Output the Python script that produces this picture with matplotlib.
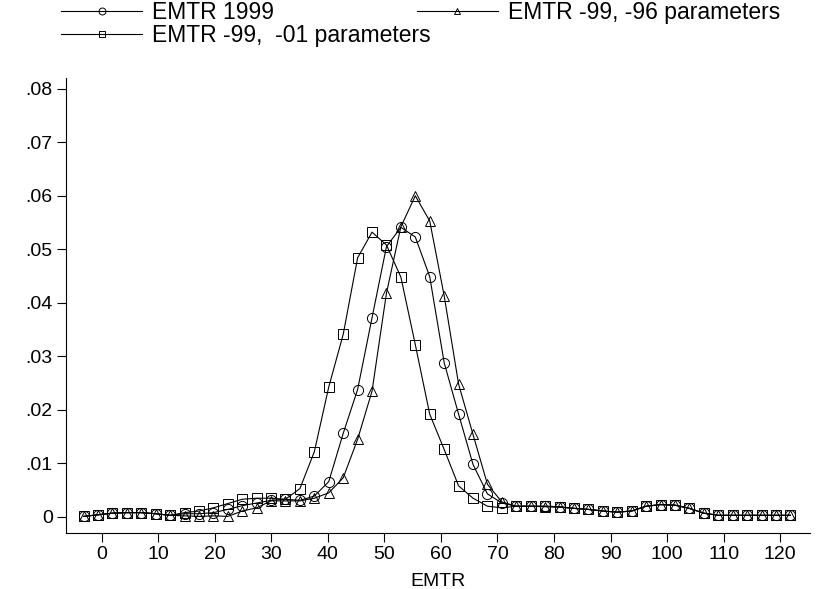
import matplotlib
matplotlib.use("Agg")
from matplotlib import pyplot as plt
from matplotlib.lines import Line2D

plt.rcParams['font.family'] = ['Liberation Sans', 'DejaVu Sans']

# grid of EMTR values where the densities were evaluated
emtr = [-3.2, -0.65, 1.9, 4.45, 7.0, 9.56, 12.11, 14.66, 17.21, 19.76,
        22.31, 24.86, 27.41, 29.96, 32.51, 35.07, 37.62, 40.17, 42.72, 45.27,
        47.82, 50.37, 52.92, 55.47, 58.02, 60.58, 63.13, 65.68, 68.23, 70.78,
        73.33, 75.88, 78.43, 80.98, 83.53, 86.09, 88.64, 91.19, 93.74, 96.29,
        98.84, 101.39, 103.94, 106.49, 109.04, 111.6, 114.15, 116.7, 119.25, 121.8]

dens_1999 = [0.0001, 0.0004, 0.0007, 0.0008, 0.0008, 0.0006, 0.0003, 0.0006, 0.0006, 0.0008,
             0.0014, 0.0021, 0.0026, 0.0031, 0.0033, 0.0031, 0.0039, 0.0066, 0.0156, 0.0238,
             0.0372, 0.0505, 0.0541, 0.0523, 0.0449, 0.0288, 0.0192, 0.0098, 0.0043, 0.0026,
             0.0020, 0.0020, 0.0020, 0.0019, 0.0016, 0.0014, 0.0011, 0.0009, 0.0011, 0.0020,
             0.0023, 0.0022, 0.0016, 0.0007, 0.0003, 0.0003, 0.0003, 0.0003, 0.0003, 0.0003]

dens_96 = [0.0001, 0.0004, 0.0007, 0.0008, 0.0008, 0.0006, 0.0003, 0.0002, 0.0001, 0.0002,
           0.0001, 0.0011, 0.0017, 0.0030, 0.0030, 0.0030, 0.0035, 0.0045, 0.0073, 0.0145,
           0.0235, 0.0418, 0.0542, 0.0600, 0.0553, 0.0413, 0.0248, 0.0154, 0.0061, 0.0028,
           0.0020, 0.0020, 0.0019, 0.0018, 0.0016, 0.0014, 0.0011, 0.0009, 0.0011, 0.0020,
           0.0023, 0.0022, 0.0016, 0.0007, 0.0003, 0.0003, 0.0003, 0.0003, 0.0003, 0.0003]

dens_01 = [0.0001, 0.0004, 0.0007, 0.0008, 0.0008, 0.0006, 0.0003, 0.0008, 0.0011, 0.0017,
           0.0025, 0.0033, 0.0035, 0.0035, 0.0033, 0.0053, 0.0122, 0.0243, 0.0341, 0.0484,
           0.0532, 0.0508, 0.0448, 0.0322, 0.0192, 0.0126, 0.0058, 0.0035, 0.0020, 0.0017,
           0.0020, 0.0020, 0.0020, 0.0019, 0.0016, 0.0014, 0.0011, 0.0009, 0.0011, 0.0020,
           0.0023, 0.0022, 0.0016, 0.0007, 0.0003, 0.0003, 0.0003, 0.0003, 0.0003, 0.0003]

labels = ['EMTR 1999', 'EMTR -99, -96 parameters', 'EMTR -99,  -01 parameters']
markers = ['o', '^', 's']
yticks = [0, 0.01, 0.02, 0.03, 0.04, 0.05, 0.06, 0.07, 0.08]
ytick_labels = ['0', '.01', '.02', '.03', '.04', '.05', '.06', '.07', '.08']
xticks = list(range(0, 130, 10))

fig = plt.figure(figsize=(8.18, 5.89), dpi=100)
ax = fig.add_axes([0.0807, 0.0951, 0.909, 0.7725])

for y, m in zip([dens_1999, dens_96, dens_01], markers):
    ax.plot(emtr, y, color='black', lw=0.8, marker=m, ms=7.3,
            mfc='none', mec='black', mew=0.7)

ax.set_xlim(-6.3, 125.2)
ax.set_ylim(-0.003, 0.082)
ax.set_yticks(yticks)
ax.set_yticklabels(ytick_labels)
ax.set_xticks(xticks)
ax.spines['top'].set_visible(False)
ax.spines['right'].set_visible(False)
for s in ['left', 'bottom']:
    ax.spines[s].set_linewidth(0.8)
ax.tick_params(axis='both', direction='out', length=6.5, width=0.8,
               labelsize=14, pad=3)
ax.set_xlabel('EMTR', fontsize=14, labelpad=7)

def handle(m):
    return Line2D([], [], color='black', lw=0.8, marker=m, ms=5,
                  mfc='none', mec='black', mew=0.7)

leg_kw = dict(loc='upper left', frameon=False, fontsize=16.5,
              handlelength=3.54, handletextpad=0.44, borderpad=0.2)
leg1 = fig.legend([handle('o'), handle('s')], [labels[0], labels[2]],
                  bbox_to_anchor=(0.0552, 1.0256), labelspacing=0.0, **leg_kw)
leg2 = fig.legend([handle('^')], [labels[1]],
                  bbox_to_anchor=(0.490, 1.0256), **leg_kw)

fig.savefig('out.png', dpi=100)
